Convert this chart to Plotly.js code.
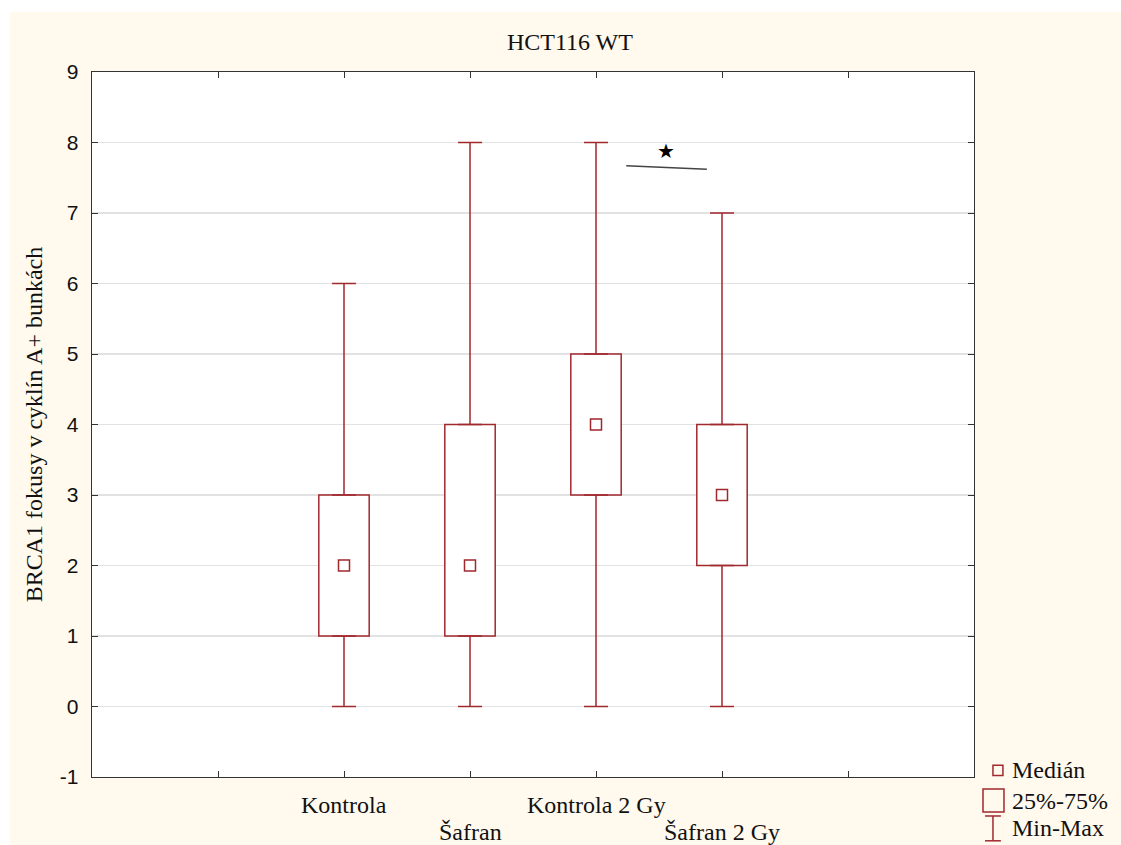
<!DOCTYPE html>
<html>
<head>
<meta charset="utf-8">
<script src="https://cdn.plot.ly/plotly-3.0.1.min.js"></script>
<style>
  html, body { margin: 0; padding: 0; background: #ffffff; }
  #chart { position: absolute; left: 10px; top: 12px; width: 1111px; height: 833px; }
</style>
</head>
<body>
<div id="chart"></div>
<script>
// ---- data ----
const categories = ["Kontrola", "Šafran", "Kontrola 2 Gy", "Šafran 2 Gy"];
const minVals    = [0, 0, 0, 0];
const q1Vals     = [1, 1, 3, 2];
const medianVals = [2, 2, 4, 3];
const q3Vals     = [3, 4, 5, 4];
const maxVals    = [6, 8, 8, 7];
const yTicks     = [-1, 0, 1, 2, 3, 4, 5, 6, 7, 8, 9];
const yTickText  = ["-1", "0", "1", "2", "3", "4", "5", "6", "7", "8", "9"];
const legendLabels = ["Medián", "25%-75%", "Min-Max"];

// ---- styling ----
const RED = "#A0292E";
const SERIF = "'Liberation Serif', 'Times New Roman', serif";
const SANS = "'Liberation Sans', Arial, sans-serif";

const idx = categories.map((c, i) => i);

const boxTrace = {
  type: "bar",
  x: idx,
  base: q1Vals,
  y: q3Vals.map((v, i) => v - q1Vals[i]),
  width: 0.4,
  marker: { color: "#ffffff", line: { color: RED, width: 1.5 } },
  hoverinfo: "skip",
  showlegend: false
};

const upperWhisker = {
  type: "scatter",
  mode: "markers",
  x: idx,
  y: q3Vals,
  marker: { color: "rgba(0,0,0,0)", size: 1 },
  error_y: {
    type: "data", symmetric: false,
    array: maxVals.map((v, i) => v - q3Vals[i]),
    arrayminus: q3Vals.map(() => 0),
    color: RED, thickness: 1.5, width: 12
  },
  hoverinfo: "skip",
  showlegend: false
};

const lowerWhisker = {
  type: "scatter",
  mode: "markers",
  x: idx,
  y: q1Vals,
  marker: { color: "rgba(0,0,0,0)", size: 1 },
  error_y: {
    type: "data", symmetric: false,
    array: q1Vals.map(() => 0),
    arrayminus: q1Vals.map((v, i) => v - minVals[i]),
    color: RED, thickness: 1.5, width: 12
  },
  hoverinfo: "skip",
  showlegend: false
};

const medianTrace = {
  type: "scatter",
  mode: "markers",
  x: idx,
  y: medianVals,
  marker: { symbol: "square", size: 11, color: "#ffffff", line: { color: RED, width: 1.5 } },
  showlegend: false
};

// significance marker between Kontrola 2 Gy and Šafran 2 Gy
const sig = { x0: 2.24, x1: 2.88, y0: 7.67, y1: 7.62, starX: 2.555, starY: 7.88 };

// staggered category labels below the axis
const rowY = [-0.0395, -0.078];
const catAnnots = categories.map((c, i) => ({
  xref: "x", yref: "paper", x: i, y: rowY[i % 2],
  xanchor: "center", yanchor: "middle", showarrow: false, text: c,
  font: { family: SERIF, size: 24, color: "#111" }
}));

// legend drawn in paper coordinates
const legendShapes = [
  { type: "rect", xref: "paper", yref: "paper", x0: 1.0215, x1: 1.0328, y0: 0.002, y1: 0.0165,
    line: { color: RED, width: 1.5 }, fillcolor: "rgba(0,0,0,0)" },
  { type: "rect", xref: "paper", yref: "paper", x0: 1.0102, x1: 1.0340, y0: -0.0496, y1: -0.0170,
    line: { color: RED, width: 1.5 }, fillcolor: "rgba(0,0,0,0)" },
  { type: "line", xref: "paper", yref: "paper", x0: 1.0215, x1: 1.0215, y0: -0.0905, y1: -0.0553,
    line: { color: RED, width: 1.5 } },
  { type: "line", xref: "paper", yref: "paper", x0: 1.0125, x1: 1.0305, y0: -0.0553, y1: -0.0553,
    line: { color: RED, width: 1.5 } },
  { type: "line", xref: "paper", yref: "paper", x0: 1.0125, x1: 1.0305, y0: -0.0905, y1: -0.0905,
    line: { color: RED, width: 1.5 } }
];
const legendY = [0.0095, -0.0335, -0.0730];
const legendAnnots = legendLabels.map((t, i) => ({
  xref: "paper", yref: "paper", x: 1.0405, y: legendY[i],
  xanchor: "left", yanchor: "middle", showarrow: false, text: t,
  font: { family: SERIF, size: 24, color: "#111" }
}));

const layout = {
  width: 1111, height: 833,
  margin: { l: 82, r: 147, t: 60, b: 68 },
  paper_bgcolor: "#FFF9EE",
  plot_bgcolor: "#ffffff",
  barmode: "overlay",
  showlegend: false,
  title: {
    text: "HCT116 WT",
    font: { family: SERIF, size: 24, color: "#111" },
    xref: "container", x: 0.504, xanchor: "center",
    yref: "container", y: 0.964, yanchor: "middle"
  },
  xaxis: {
    range: [-2, 5],
    tickvals: idx, ticktext: idx.map(() => ""),
    ticks: "inside", ticklen: 6, tickcolor: "#333",
    minor: { dtick: 1, tick0: 0, ticks: "inside", ticklen: 6, tickcolor: "#333", showgrid: false },
    showgrid: false, zeroline: false,
    showline: true, linecolor: "#333", linewidth: 1.3, mirror: "ticks",
    fixedrange: true
  },
  yaxis: {
    range: [-1, 9],
    tickvals: yTicks, ticktext: yTickText,
    ticks: "inside", ticklen: 6, tickcolor: "#333",
    showgrid: true, gridcolor: "#E2E2E2", gridwidth: 1.2,
    zeroline: false,
    showline: true, linecolor: "#333", linewidth: 1.3, mirror: "ticks",
    tickfont: { family: SANS, size: 21, color: "#111" },
    ticklabelstandoff: 8,
    title: {
      text: "BRCA1 fokusy v cyklín A+ bunkách",
      font: { family: SERIF, size: 24, color: "#111" },
      standoff: 10
    },
    fixedrange: true
  },
  shapes: [
    { type: "line", xref: "x", yref: "y", x0: sig.x0, x1: sig.x1, y0: sig.y0, y1: sig.y1,
      line: { color: "#444", width: 1.5 } }
  ].concat(legendShapes),
  annotations: [
    { xref: "x", yref: "y", x: sig.starX, y: sig.starY, text: "★", showarrow: false,
      font: { family: "DejaVu Sans", size: 20, color: "#000" } }
  ].concat(catAnnots, legendAnnots)
};

Plotly.newPlot("chart", [boxTrace, upperWhisker, lowerWhisker, medianTrace], layout,
  { displayModeBar: false, staticPlot: true });
</script>
</body>
</html>
